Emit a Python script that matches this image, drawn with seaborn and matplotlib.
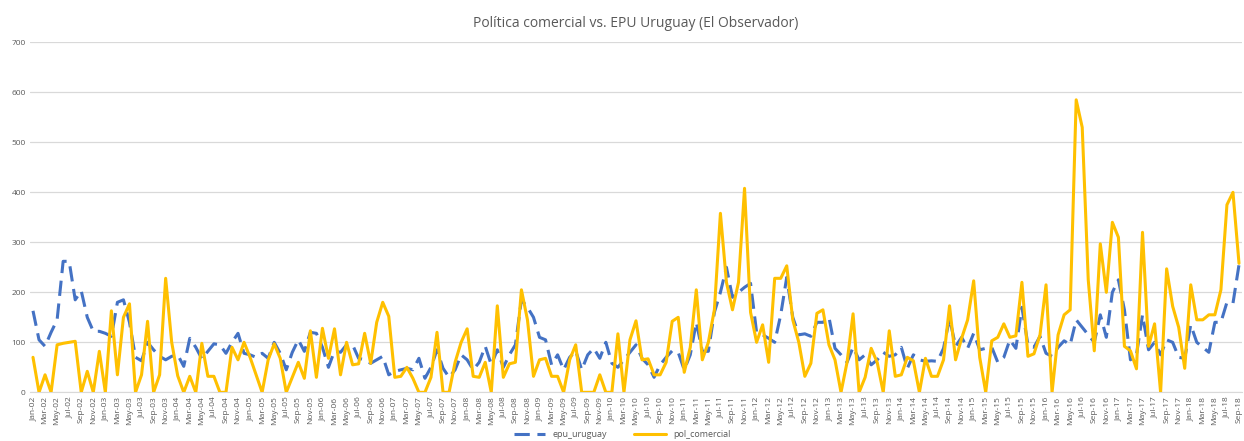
import matplotlib
matplotlib.use("Agg")
import matplotlib.pyplot as plt
import seaborn as sns
import pandas as pd

# Monthly series, Jan-2002 .. Sep-2018
months = pd.date_range("2002-01-01", "2018-09-01", freq="MS").strftime("%b-%y").tolist()

epu_uruguay = [
    163, 105, 92, 120, 145, 262, 262, 185, 203, 150, 122, 122,
    118, 112, 180, 185, 140, 70, 63, 100, 85, 72, 65, 72,
    75, 52, 108, 90, 67, 82, 97, 95, 78, 100, 118, 78,
    75, 70, 78, 68, 100, 78, 45, 80, 105, 82, 120, 118,
    90, 50, 83, 80, 95, 95, 68, 65, 58, 65, 72, 35,
    42, 45, 48, 45, 68, 28, 50, 85, 48, 30, 45, 75,
    65, 45, 60, 92, 55, 85, 50, 75, 95, 185, 170, 150,
    110, 105, 55, 75, 45, 70, 83, 45, 75, 88, 68, 100,
    58, 50, 65, 80, 95, 68, 55, 30, 55, 70, 83, 80,
    45, 75, 140, 82, 82, 160, 200, 250, 190, 200, 210, 218,
    120, 115, 108, 100, 155, 230, 150, 115, 117, 112, 140, 140,
    150, 88, 75, 60, 90, 65, 75, 55, 65, 80, 72, 75,
    90, 48, 75, 65, 62, 63, 62, 88, 148, 92, 110, 88,
    118, 85, 88, 90, 60, 70, 105, 88, 170, 95, 90, 112,
    78, 72, 90, 103, 95, 145, 130, 115, 100, 155, 110, 200,
    225, 165, 65, 75, 155, 85, 100, 75, 105, 100, 70, 68,
    135, 100, 90, 80, 140, 140, 180, 178, 255,
]

pol_comercial = [
    70, 0, 35, 0, 95, 98, 100, 102, 0, 42, 0, 82,
    0, 163, 35, 150, 177, 0, 35, 142, 0, 35, 228, 100,
    33, 0, 32, 0, 98, 32, 32, 0, 0, 90, 65, 100,
    70, 35, 0, 65, 97, 68, 0, 30, 60, 28, 123, 30,
    128, 68, 127, 35, 100, 55, 57, 118, 58, 140, 180, 152,
    30, 32, 50, 28, 0, 0, 30, 120, 0, 0, 60, 100,
    127, 32, 30, 60, 0, 173, 30, 57, 60, 205, 145, 32,
    65, 68, 32, 32, 0, 65, 95, 0, 0, 0, 35, 0,
    0, 117, 0, 105, 143, 65, 67, 35, 35, 60, 142, 150,
    40, 90, 205, 65, 100, 165, 358, 220, 165, 220, 408, 160,
    100, 135, 60, 228, 228, 253, 145, 100, 32, 58, 158, 165,
    95, 65, 0, 60, 157, 0, 30, 88, 60, 0, 123, 32,
    35, 70, 63, 0, 68, 32, 32, 65, 173, 65, 108, 145,
    223, 70, 0, 103, 110, 137, 110, 113, 220, 72, 77, 115,
    215, 0, 115, 155, 165, 585, 530, 225, 83, 297, 200, 340,
    310, 92, 83, 47, 320, 92, 137, 0, 247, 172, 130, 48,
    215, 145, 145, 155, 155, 205, 375, 400, 258,
]

df = pd.DataFrame({
    "idx": range(len(months)),
    "epu_uruguay": epu_uruguay,
    "pol_comercial": pol_comercial,
})

sns.set_style("white")
plt.rcParams["font.family"] = ["Open Sans", "DejaVu Sans"]

fig = plt.figure(figsize=(12.44, 4.41), dpi=100)
ax = fig.add_axes([0.0241, 0.1104, 0.9743, 0.7936])

sns.lineplot(data=df, x="idx", y="epu_uruguay", ax=ax, color="#4472C4",
             linewidth=2.2, label="epu_uruguay", zorder=3)
ax.lines[-1].set_dashes((5, 2.5))
sns.lineplot(data=df, x="idx", y="pol_comercial", ax=ax, color="#FFC000",
             linewidth=2.2, label="pol_comercial", zorder=4)

ax.set_xlim(-0.5, len(months) - 0.5)
ax.set_ylim(0, 700)
ax.set_yticks(range(0, 701, 100))
ax.set_xticks(range(0, len(months), 2))
ax.set_xticklabels(months[::2], rotation=90)
ax.tick_params(axis="both", labelsize=6, colors="#595959", length=0, pad=3)
ax.yaxis.grid(True, color="#d9d9d9", linewidth=0.9)
ax.set_axisbelow(True)
for side in ["top", "right", "left"]:
    ax.spines[side].set_visible(False)
ax.spines["bottom"].set_color("#d9d9d9")
ax.set_xlabel("")
ax.set_ylabel("")

ax.set_title("Política comercial vs. EPU Uruguay (El Observador)",
             fontsize=10, color="#595959", pad=11)

handles, labels = ax.get_legend_handles_labels()
ax.get_legend().remove()
fig.legend(handles, labels, loc="lower center", bbox_to_anchor=(0.5, 0.0),
           borderaxespad=0.1, borderpad=0.15,
           ncol=2, frameon=False, fontsize=6.5, labelcolor="#595959",
           handlelength=3.5, columnspacing=3)

fig.savefig("out.png", dpi=100)
